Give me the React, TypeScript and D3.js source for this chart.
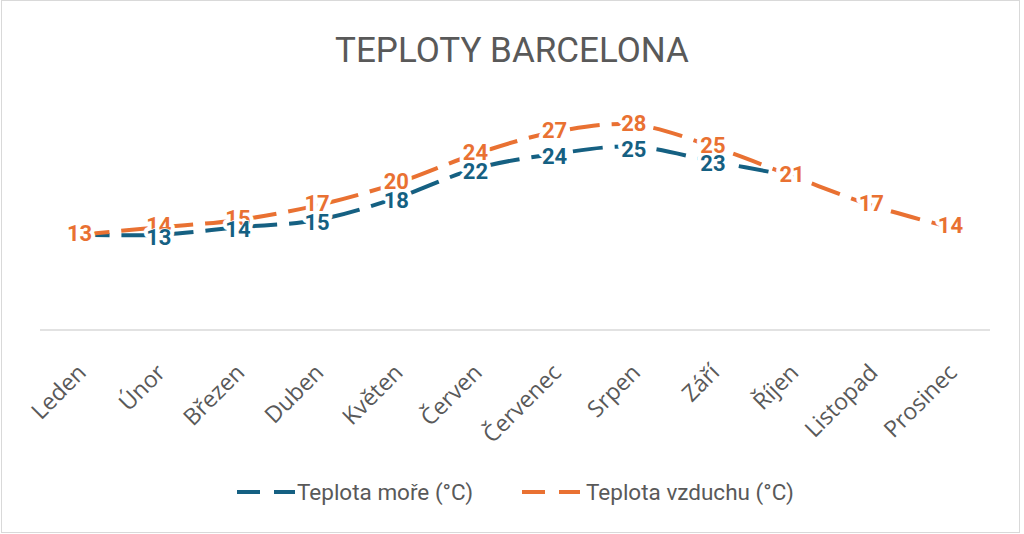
import { useEffect, useRef } from 'react';
import * as d3 from 'd3';

const months = ['Leden', 'Únor', 'Březen', 'Duben', 'Květen', 'Červen', 'Červenec', 'Srpen', 'Září', 'Říjen', 'Listopad', 'Prosinec'];
const seaTemp: (number | null)[] = [13, 13, 14, 15, 18, 22, 24, 25, 23, 21, null, null];
const airTemp = [13, 14, 15, 17, 20, 24, 27, 28, 25, 21, 17, 14];
const seriesNames = ['Teplota moře (°C)', 'Teplota vzduchu (°C)'];
const title = 'TEPLOTY BARCELONA';

export default function App() {
  const svgRef = useRef<SVGSVGElement>(null);

  useEffect(() => {
    if (!svgRef.current) return;
    const svg = d3.select(svgRef.current);
    svg.selectAll('*').remove();
    const gray = '#595959';
    const colors = ['#156082', '#E97132'];

    svg.append('rect')
      .attr('x', 1.5).attr('y', 0.5)
      .attr('width', 1018).attr('height', 532)
      .attr('fill', '#fff').attr('stroke', '#d9d9d9');

    svg.append('text')
      .attr('x', 512).attr('y', 62)
      .attr('text-anchor', 'middle')
      .attr('font-family', 'Roboto, sans-serif')
      .attr('font-size', 35)
      .attr('fill', gray)
      .text(title);

    const x = d3.scaleBand().domain(months).range([40, 990]);
    const cx = (m: string) => (x(m) ?? 0) + x.bandwidth() / 2;
    const y = d3.scaleLinear().domain([0, 30]).range([330, 110]);

    // osa x
    svg.append('line')
      .attr('x1', 40).attr('x2', 990)
      .attr('y1', y(0)).attr('y2', y(0))
      .attr('stroke', '#d9d9d9').attr('stroke-width', 1.5);

    svg.append('g').selectAll('text')
      .data(months).join('text')
      .attr('transform', d => `translate(${cx(d) + 8},${y(0) + 44}) rotate(-45)`)
      .attr('text-anchor', 'end')
      .attr('font-family', '"Open Sans", sans-serif')
      .attr('font-size', 23)
      .attr('fill', gray)
      .text(d => d);

    const line = d3.line<number | null>()
      .defined(d => d !== null)
      .x((_, i) => cx(months[i]))
      .y(d => y(d as number))
      .curve(d3.curveCatmullRom.alpha(0.5));

    [seaTemp, airTemp].forEach((vals, s) => {
      svg.append('path')
        .datum(vals)
        .attr('d', line)
        .attr('fill', 'none')
        .attr('stroke', colors[s])
        .attr('stroke-width', 4)
        .attr('stroke-dasharray', '30 12');
    });

    // popisky dat (modré jen tam, kde se liší od vzduchu)
    const labels = [
      ...airTemp.map((v, i) => ({ v, i, s: 1 })),
      ...seaTemp.map((v, i) => ({ v, i, s: 0 }))
        .filter(d => d.v !== null && d.v !== airTemp[d.i]),
    ];
    const lg = svg.append('g')
      .attr('font-family', 'Roboto, sans-serif')
      .attr('font-weight', 'bold')
      .attr('font-size', 22)
      .attr('text-anchor', 'middle');
    const place = (sel: any) => sel
      .attr('x', (d: any) => cx(months[d.i]))
      .attr('y', (d: any) => y(d.v) + (d.s === 0 ? 2 : -2))
      .attr('dy', '0.36em')
      .text((d: any) => String(d.v));
    // bílé pozadí pod popisky
    lg.append('g').selectAll('text').data(labels).join('text')
      .call(place)
      .attr('fill', '#fff').attr('stroke', '#fff')
      .attr('stroke-width', 8).attr('stroke-linejoin', 'round');
    lg.append('g').selectAll('text').data(labels).join('text')
      .call(place)
      .attr('fill', (d: any) => colors[d.s])
      .attr('stroke', '#fff')
      .attr('stroke-width', (d: any) => (d.s === 0 ? 1.5 : 0))
      .attr('paint-order', 'stroke');

    // legenda
    const legend = [{ x: 237, name: seriesNames[0] }, { x: 522, name: seriesNames[1] }];
    legend.forEach((l, s) => {
      svg.append('line')
        .attr('x1', l.x).attr('x2', l.x + 58)
        .attr('y1', 492).attr('y2', 492)
        .attr('stroke', colors[s]).attr('stroke-width', 4)
        .attr('stroke-dasharray', '23 14');
      svg.append('text')
        .attr('x', l.x + (s === 0 ? 60 : 64)).attr('y', 492)
        .attr('dy', '0.35em')
        .attr('font-family', 'Roboto, sans-serif')
        .attr('font-size', 22.5)
        .attr('fill', gray)
        .text(l.name);
    });
  }, []);

  return (
    <svg ref={svgRef} width={1024} height={534}
      style={{ position: 'absolute', left: 0, top: 0, background: '#fff' }} />
  );
}
